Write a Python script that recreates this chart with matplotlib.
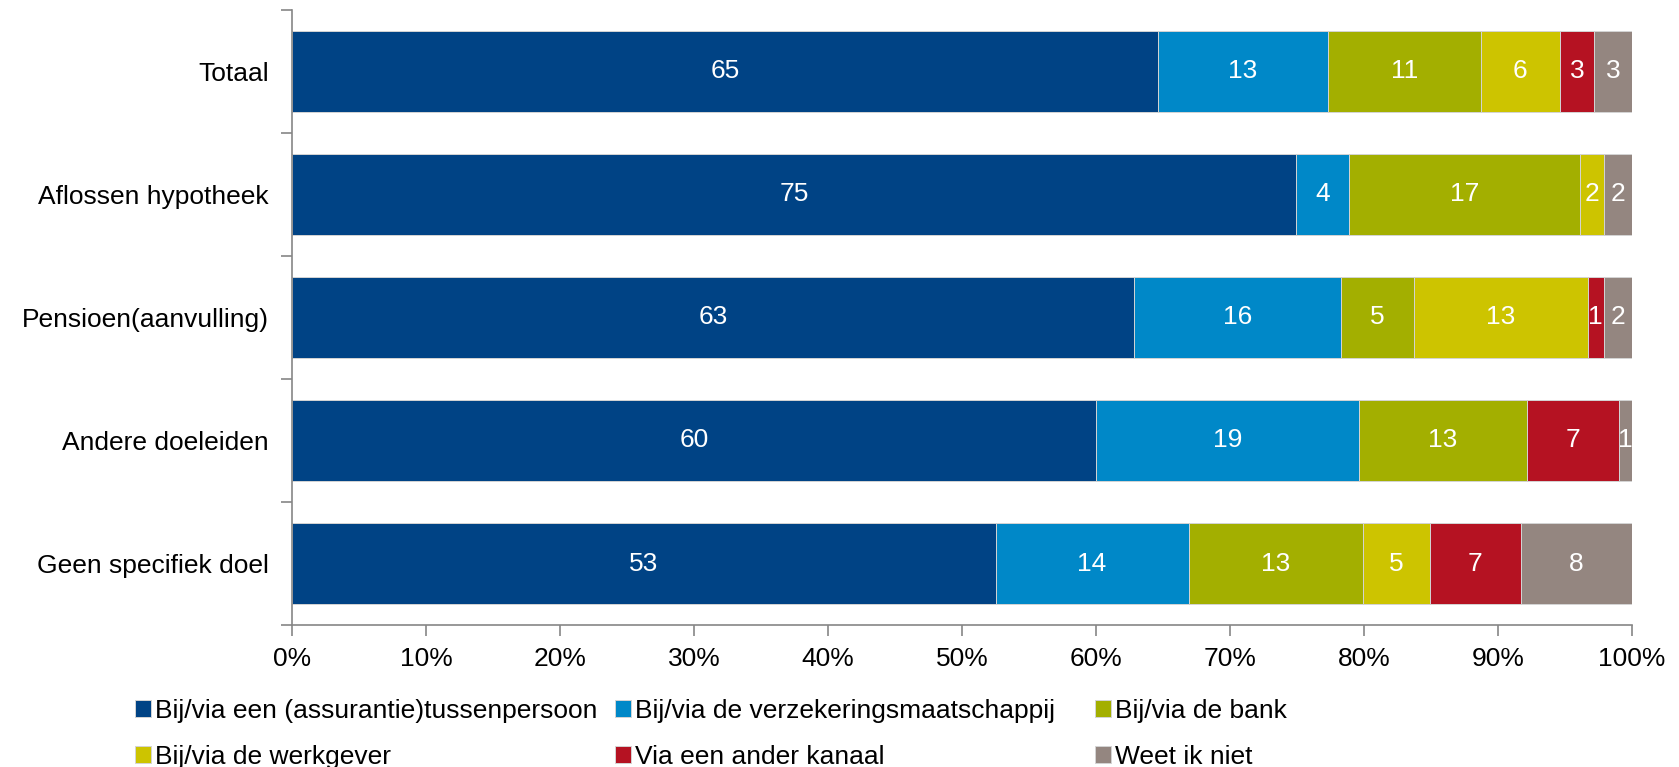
import matplotlib

matplotlib.use("Agg")
import matplotlib.pyplot as plt
import numpy as np
from matplotlib.ticker import FixedLocator, PercentFormatter

plt.rcParams["font.family"] = ["Liberation Sans", "DejaVu Sans"]

categories = [
    "Totaal",
    "Aflossen hypotheek",
    "Pensioen(aanvulling)",
    "Andere doeleiden",
    "Geen specifiek doel",
]

series_names = [
    "Bij/via een (assurantie)tussenpersoon",
    "Bij/via de verzekeringsmaatschappij",
    "Bij/via de bank",
    "Bij/via de werkgever",
    "Via een ander kanaal",
    "Weet ik niet",
]

# segment widths (percent) per series, one value per category
tussenpersoon = [64.6, 74.9, 62.8, 60.0, 52.5]
maatschappij = [12.7, 4.0, 15.5, 19.6, 14.4]
bank = [11.4, 17.2, 5.4, 12.6, 13.0]
werkgever = [5.9, 1.8, 13.0, 0.0, 5.0]
ander_kanaal = [2.6, 0.0, 1.2, 6.8, 6.8]
weet_niet = [2.8, 2.1, 2.1, 1.0, 8.3]

# labels as printed in the bars
lbl_tussenpersoon = ["65", "75", "63", "60", "53"]
lbl_maatschappij = ["13", "4", "16", "19", "14"]
lbl_bank = ["11", "17", "5", "13", "13"]
lbl_werkgever = ["6", "2", "13", "", "5"]
lbl_ander_kanaal = ["3", "", "1", "7", "7"]
lbl_weet_niet = ["3", "2", "2", "1", "8"]

colors = ["#004385", "#0088c8", "#a3af00", "#cdc400", "#b51222", "#948680"]

values = [tussenpersoon, maatschappij, bank, werkgever, ander_kanaal, weet_niet]
labels = [lbl_tussenpersoon, lbl_maatschappij, lbl_bank, lbl_werkgever,
          lbl_ander_kanaal, lbl_weet_niet]

FS = 19

fig = plt.figure(figsize=(16.79, 7.67), dpi=100)
ax = fig.add_axes([0.174, 0.185, 0.798, 0.8025])

y = np.arange(len(categories))
left = np.zeros(len(categories))
handles = []
for name, vals, lbls, col in zip(series_names, values, labels, colors):
    vals = np.array(vals)
    bars = ax.barh(y, vals, left=left, height=0.66, color=col,
                   edgecolor="#d4d4d4", linewidth=0.7, label=name)
    handles.append(bars)
    for yi, (v, l, lo) in enumerate(zip(vals, lbls, left)):
        if l and v > 0:
            ax.text(lo + v / 2, yi, l, ha="center", va="center",
                    color="white", fontsize=FS)
    left += vals

ax.set_xlim(0, 100)
ax.set_ylim(len(categories) - 0.5, -0.5)
ax.set_xticks(np.arange(0, 101, 10))
ax.xaxis.set_major_formatter(PercentFormatter(decimals=0))
ax.set_yticks(y)
ax.set_yticklabels(categories)
ax.yaxis.set_minor_locator(FixedLocator(np.arange(-0.5, len(categories), 1)))

ax.tick_params(axis="x", which="major", length=8, width=1.2, color="#868686",
               labelsize=FS, pad=8)
ax.tick_params(axis="y", which="major", length=0, labelsize=FS, pad=17)
ax.tick_params(axis="y", which="minor", length=8, width=1.2, color="#868686")

for s in ["top", "right"]:
    ax.spines[s].set_visible(False)
for s in ["left", "bottom"]:
    ax.spines[s].set_color("#868686")
    ax.spines[s].set_linewidth(1.2)

# legend: three equal-width columns, two rows, read row by row
col_x = [0.0804, 0.3663, 0.6522]
for c, x0 in enumerate(col_x):
    idx = [c, c + 3]
    fig.legend([handles[i] for i in idx], [series_names[i] for i in idx],
               loc="upper left", bbox_to_anchor=(x0, 0.089),
               frameon=False, fontsize=FS, handlelength=0.6, handleheight=0.6,
               handletextpad=0.15, labelspacing=0.85,
               borderaxespad=0, borderpad=0)

fig.savefig("out.png", dpi=100)
